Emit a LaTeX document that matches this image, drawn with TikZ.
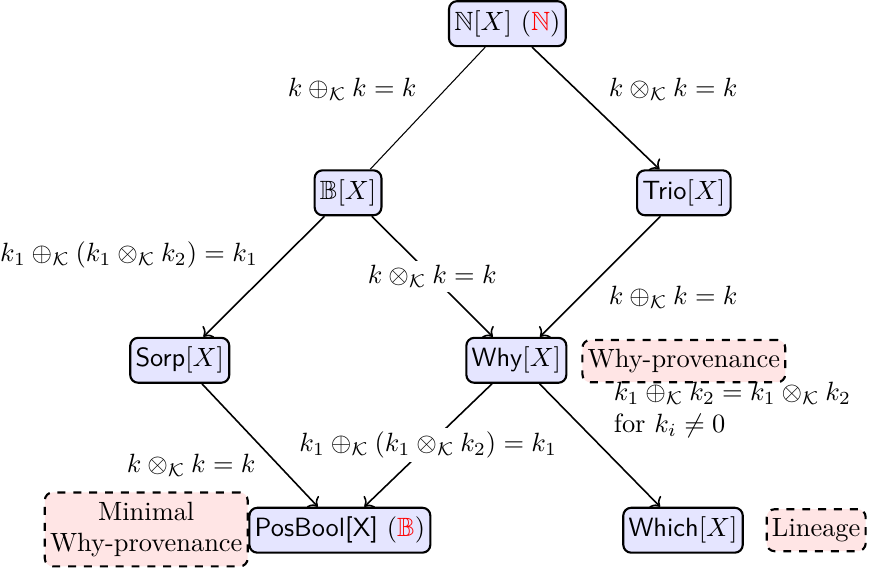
\documentclass[tikz,border=0pt]{standalone}
\usepackage{amssymb}
\usetikzlibrary{arrows.meta,positioning}
\tikzset{
block/.style={draw,thick,rounded corners=3pt,fill=blue!10,align=center,inner xsep=2pt,inner ysep=3.5pt},
notebox/.style={draw,thick,dashed,rounded corners=3pt,fill=red!10,align=center,inner xsep=2pt,inner ysep=3.5pt},
arrow/.style={->,semithick},
thinline/.style={thin},
edgelabel/.style={fill=white,inner sep=1.5pt}
}
\newcommand{\kplus}{\oplus_{\mathcal{K}}}
\newcommand{\ktimes}{\otimes_{\mathcal{K}}}

\begin{document}
\begin{tikzpicture}[scale=1.087]
\useasboundingbox (0,0) rectangle (10.71,6.99);
% semirings
\node[block] (nx) at (6.21,6.70) {$\mathbb{N}[X]$ ($\color{red}\mathbb{N}$)};
\node[block] (bx) at (4.26,4.63) {$\mathbb{B}[X]$};
\node[block] (trio) at (8.37,4.63) {\textsf{Trio}$[X]$};
\node[block] (sorp) at (2.20,2.58) {\textsf{Sorp}$[X]$};
\node[block] (why) at (6.32,2.58) {\textsf{Why}$[X]$};
\node[block] (posbool) at (4.16,0.50) {\textsf{PosBool[X]} ($\color{red}\mathbb{B}$)};
\node[block] (which) at (8.36,0.50) {\textsf{Which}$[X]$};
% notes
\node[notebox] (whyprov) at (8.37,2.57) {Why-provenance};
\node[notebox] (lineage) at (9.99,0.50) {Lineage};
\node[notebox] (minimal) at (1.79,0.51) {Minimal\\Why-provenance};
\node[align=left,anchor=west] (cond) at (7.40,1.97) {$k_1 \kplus k_2 = k_1 \ktimes k_2$\\for $k_i \neq 0$};
% edges
\draw[thinline] (nx)--(bx);
\draw[arrow] (nx)--(trio);
\draw[arrow] (bx)--(sorp);
\draw[arrow] (bx)--(why) node[midway,edgelabel] (lbw) {$k \ktimes k = k$};
\draw[arrow] (trio)--(why);
\draw[arrow] (sorp)--(posbool);
\draw[arrow] (why)--(posbool) node[midway,edgelabel] (lwp) {$k_1 \kplus (k_1 \ktimes k_2) = k_1$};
\draw[arrow] (why)--(which);
% labels
\node (lnb) at (4.31,5.90) {$k \kplus k = k$};
\node (lnt) at (8.24,5.90) {$k \ktimes k = k$};
\node (lbs) at (1.58,3.87) {$k_1 \kplus (k_1 \ktimes k_2) = k_1$};
\node (ltw) at (8.24,3.35) {$k \kplus k = k$};
\node (lsp) at (2.34,1.30) {$k \ktimes k = k$};
\end{tikzpicture}
\end{document}
